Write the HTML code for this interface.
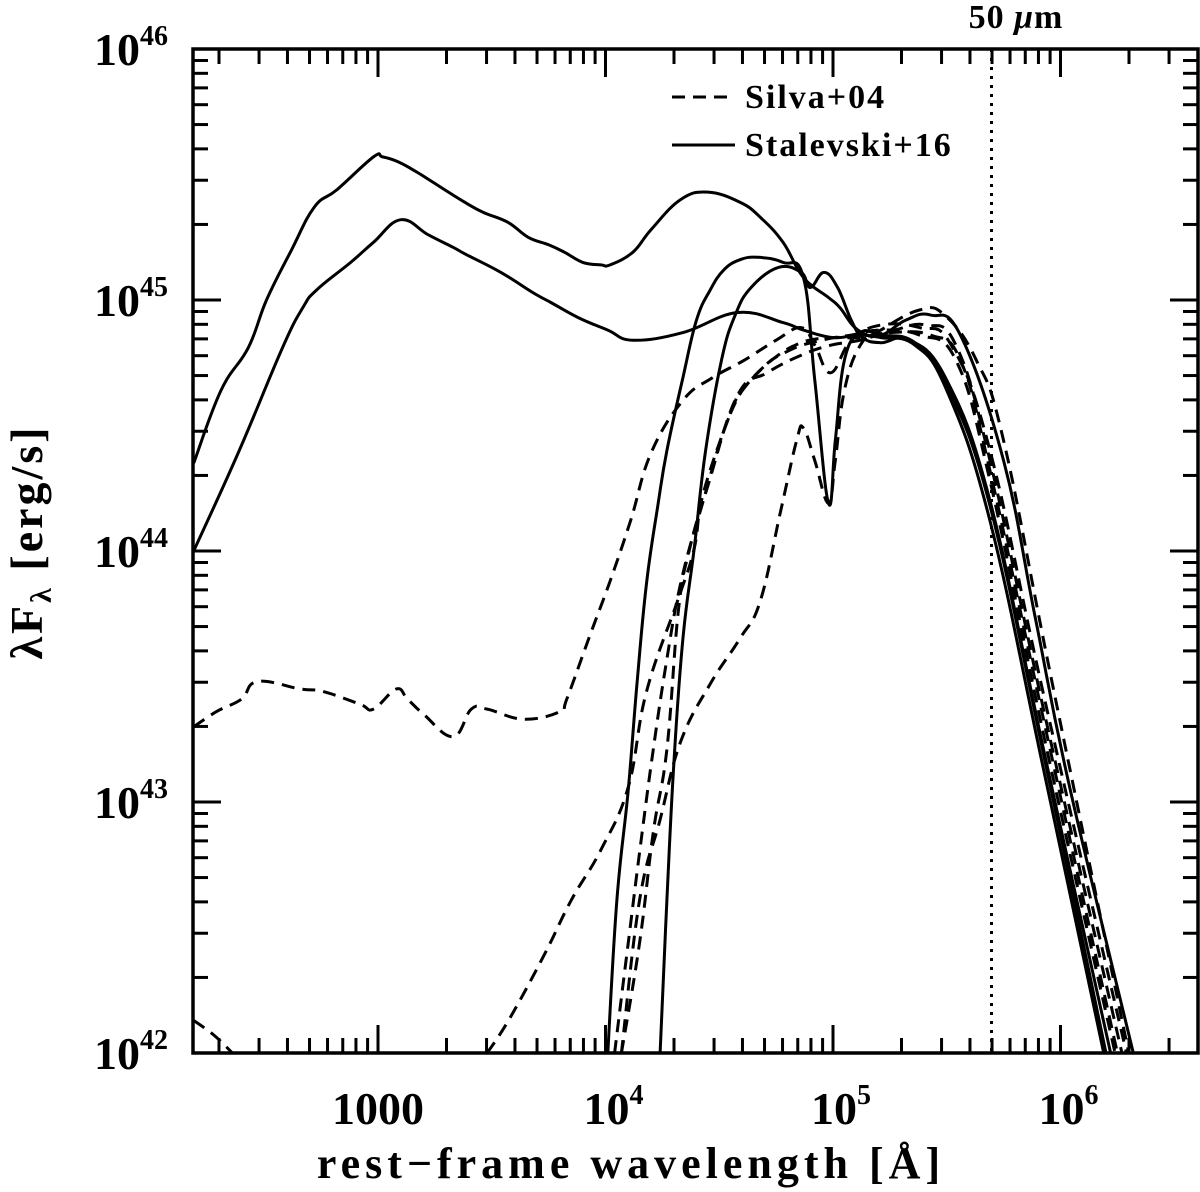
<!DOCTYPE html>
<html><head><meta charset="utf-8"><style>
html,body{margin:0;padding:0;background:#fff;}
svg{display:block;font-family:"Liberation Serif","DejaVu Serif",serif;}
</style></head><body>
<svg id="chart" width="1200" height="1192" viewBox="0 0 1200 1192" xmlns="http://www.w3.org/2000/svg">
<rect width="1200" height="1192" fill="#fff"/>
<g id="axes"></g>
<g id="series"></g>
<line x1="991.5" y1="49" x2="991.5" y2="1053" stroke="#000" stroke-width="3" stroke-dasharray="3,6"/>
<text x="1016" y="28" font-size="34" font-weight="bold" text-anchor="middle" letter-spacing="1">50 <tspan font-style="italic">μ</tspan>m</text>
<g>
<line x1="672" y1="97" x2="735" y2="97" stroke="#000" stroke-width="3" stroke-dasharray="13,8"/>
<text x="745" y="108" font-size="34" font-weight="bold" letter-spacing="2">Silva+04</text>
<line x1="672" y1="145" x2="735" y2="145" stroke="#000" stroke-width="3"/>
<text x="745" y="156" font-size="34" font-weight="bold" letter-spacing="2">Stalevski+16</text>
</g>
<text x="631" y="1178" font-size="44" font-weight="bold" text-anchor="middle" letter-spacing="5">rest−frame wavelength [Å]</text>
<text transform="translate(42,542) rotate(-90)" font-size="46" font-weight="bold" text-anchor="middle" letter-spacing="3">λF<tspan font-size="30" dy="9">λ</tspan><tspan dy="-9"> [erg/s]</tspan></text>
</svg>
<script>
// data in log10(wavelength/Å), log10(L/erg s^-1)
const xDecadeTicks = [3,4,5,6];
const xTickLabels = ["1000","10","10","10"];
const xTickExps = ["","4","5","6"];
const yDecadeTicks = [42,43,44,45,46];
const yTickExps = ["42","43","44","45","46"];

const stalTopX = [2.19,2.31,2.43,2.51,2.62,2.72,2.82,2.98,3.02,3.09,3.17,3.24,3.38,3.46,3.57,3.66,3.75,3.82,3.90,3.98,4.02,4.12,4.20,4.33,4.45,4.59,4.68,4.78,4.87,4.98,5.03,5.11,5.21,5.32,5.43,5.56,5.75,5.89,6.04,6.32];
const stalTopY = [44.35,44.64,44.81,45.00,45.20,45.37,45.44,45.57,45.57,45.55,45.51,45.47,45.39,45.35,45.31,45.25,45.22,45.19,45.15,45.14,45.14,45.19,45.28,45.40,45.43,45.39,45.33,45.23,45.09,45.01,44.97,44.88,44.86,44.92,44.94,44.86,44.36,43.73,43.06,42.00];
const stalLowX = [2.19,2.39,2.58,2.67,2.73,2.88,2.98,3.10,3.22,3.33,3.39,3.54,3.68,3.76,3.88,4.01,4.12,4.34,4.58,4.78,4.87,5.00,5.11,5.21,5.36,5.50,5.69,5.93,6.19];
const stalLowY = [44.00,44.40,44.81,44.97,45.04,45.15,45.23,45.32,45.26,45.21,45.18,45.11,45.03,44.99,44.93,44.88,44.84,44.87,44.95,44.91,44.88,44.85,44.86,44.85,44.82,44.64,44.12,43.11,42.00];
const stalDipX = [4.01,4.05,4.10,4.14,4.18,4.23,4.27,4.34,4.40,4.46,4.52,4.59,4.67,4.78,4.87,4.92,4.98,5.01,5.05,5.12,5.21,5.36,5.50,5.69,5.93,6.20];
const stalDipY = [42.00,42.61,43.05,43.49,43.87,44.18,44.40,44.69,44.92,45.04,45.12,45.16,45.17,45.15,45.09,44.68,44.19,44.44,44.76,44.87,44.86,44.83,44.66,44.18,43.17,42.00];
const stalPeakX = [4.24,4.27,4.30,4.34,4.39,4.44,4.51,4.57,4.64,4.76,4.86,4.90,4.96,5.02,5.08,5.13,5.21,5.34,5.50,5.69,5.93,6.22];
const stalPeakY = [42.00,42.61,43.15,43.65,44.01,44.40,44.76,44.94,45.05,45.13,45.11,45.05,45.11,45.05,44.92,44.85,44.83,44.84,44.68,44.20,43.19,42.00];

const silva1X = [2.19,2.29,2.40,2.47,2.66,2.76,2.92,2.98,3.08,3.13,3.20,3.33,3.41,3.48,3.64,3.80,3.83,3.93,4.02,4.11,4.20,4.34,4.47,4.61,4.75,4.86,4.92,4.99,5.08,5.21,5.38,5.52,5.69,5.93,6.29];
const silva1Y = [43.30,43.36,43.41,43.48,43.45,43.44,43.39,43.37,43.45,43.41,43.35,43.26,43.37,43.37,43.33,43.36,43.41,43.66,43.88,44.12,44.39,44.60,44.69,44.76,44.84,44.89,44.82,44.71,44.84,44.90,44.89,44.82,44.40,43.41,42.00];
const silva2X = [2.19,2.28,2.36];
const silva2Y = [42.13,42.07,42.00];
const silva2bX = [3.48,3.58,3.73,3.85,3.98,4.10,4.18,4.32,4.39,4.43,4.55,4.61,4.73,4.86,4.99,5.12,5.25,5.43,5.56,5.69,5.93,6.25];
const silva2bY = [42.00,42.14,42.39,42.61,42.81,43.06,43.44,43.81,44.01,44.23,44.55,44.65,44.76,44.83,44.85,44.85,44.87,44.86,44.76,44.32,43.31,42.00];
const silva3X = [4.04,4.10,4.15,4.21,4.27,4.33,4.42,4.55,4.68,4.81,4.95,5.08,5.21,5.38,5.54,5.69,5.93,6.24];
const silva3Y = [42.00,42.44,42.80,43.21,43.57,43.87,44.17,44.55,44.72,44.80,44.84,44.86,44.88,44.86,44.76,44.28,43.25,42.00];
const silva4X = [4.07,4.15,4.21,4.27,4.32,4.37,4.45,4.58,4.71,4.86,4.99,5.12,5.27,5.41,5.54,5.69,5.93,6.27];
const silva4Y = [42.00,42.44,42.88,43.21,43.76,44.01,44.26,44.62,44.71,44.78,44.82,44.84,44.88,44.90,44.82,44.36,43.35,42.00];
const silva5X = [4.07,4.15,4.24,4.33,4.46,4.59,4.68,4.77,4.84,4.87,4.92,4.98,5.01,5.05,5.12,5.21,5.38,5.49,5.63,5.75,5.96,6.30];
const silva5Y = [42.00,42.61,42.93,43.24,43.47,43.65,43.80,44.16,44.44,44.49,44.36,44.19,44.36,44.64,44.82,44.88,44.96,44.94,44.76,44.44,43.49,42.00];

const L=193,R=1198,T=49,B=1053;
const X0=2.1868, XS=227.5;
function xs(v){return L+(v-X0)*XS;}
function ys(v){return B-(v-42)*251;}
const NS="http://www.w3.org/2000/svg";
const axes=document.getElementById('axes');
const series=document.getElementById('series');
function mk(tag,attrs,parent){const e=document.createElementNS(NS,tag);for(const k in attrs)e.setAttribute(k,attrs[k]);parent.appendChild(e);return e;}

const frame=mk('rect',{x:L,y:T,width:R-L,height:B-T,fill:'none',stroke:'#000','stroke-width':3.5},axes);



for(let d=2;d<=6;d++){
  for(let m=1;m<=9;m++){
    const v=d+Math.log10(m);
    const px=xs(v);
    if(px<L+1||px>R-1)continue;
    const len=(m===1)?28:15;
    const t1=mk('line',{x1:px,y1:B,x2:px,y2:B-len,stroke:'#000','stroke-width':3},axes);
    
    
    const t2=mk('line',{x1:px,y1:T,x2:px,y2:T+len,stroke:'#000','stroke-width':3},axes);
    
    
  }
}
xDecadeTicks.forEach((v,i)=>{
  const t=mk('text',{x:xs(v)+(xTickExps[i]?8:0),y:1124,'font-size':46,'font-weight':'bold','text-anchor':'middle'},axes);
  
  
  t.textContent=xTickLabels[i];
  if(xTickExps[i]){const s=mk('tspan',{'font-size':28,dy:-20},t);s.textContent=xTickExps[i];}
});
for(let d=42;d<=45;d++){
  for(let m=1;m<=9;m++){
    const v=d+Math.log10(m);
    const py=ys(v);
    const len=(m===1)?28:15;
    const t1=mk('line',{x1:L,y1:py,x2:L+len,y2:py,stroke:'#000','stroke-width':3},axes);
    
    
    const t2=mk('line',{x1:R,y1:py,x2:R-len,y2:py,stroke:'#000','stroke-width':3},axes);
    
    
  }
}
yDecadeTicks.forEach((v,i)=>{
  const t=mk('text',{x:168,y:ys(v)+16,'font-size':46,'font-weight':'bold','text-anchor':'end'},axes);
  
  
  t.textContent='10';
  const s=mk('tspan',{'font-size':28,dy:-20},t);s.textContent=yTickExps[i];
});

const clip=mk('clipPath',{id:'pc'},document.getElementById('chart'));
mk('rect',{x:L,y:T,width:R-L,height:B-T},clip);
series.setAttribute('clip-path','url(#pc)');
function draw(xa,ya,dashed,name){
  const P=xa.map((v,i)=>[xs(v),ys(ya[i])]);
  let d='M'+P[0][0].toFixed(1)+','+P[0][1].toFixed(1);
  for(let i=0;i<P.length-1;i++){
    const p0=P[i-1]||P[i],p1=P[i],p2=P[i+1],p3=P[i+2]||P[i+1];
    const k=0.2;
    const c1=[p1[0]+(p2[0]-p0[0])*k,p1[1]+(p2[1]-p0[1])*k];
    const c2=[p2[0]-(p3[0]-p1[0])*k,p2[1]-(p3[1]-p1[1])*k];
    d+=' C'+c1[0].toFixed(1)+','+c1[1].toFixed(1)+' '+c2[0].toFixed(1)+','+c2[1].toFixed(1)+' '+p2[0].toFixed(1)+','+p2[1].toFixed(1);
  }
  const p=mk('path',{d:d,fill:'none',stroke:'#000','stroke-width':3,'stroke-linejoin':'round'},series);
  if(dashed)p.setAttribute('stroke-dasharray','13,8');
  
  
}
draw(stalTopX,stalTopY,false,'stalevski-sed-1');
draw(stalLowX,stalLowY,false,'stalevski-sed-2');
draw(stalDipX,stalDipY,false,'stalevski-sed-3');
draw(stalPeakX,stalPeakY,false,'stalevski-sed-4');
draw(silva1X,silva1Y,true,'silva-sed-1');
draw(silva2X,silva2Y,true,'silva-sed-2-uv');
draw(silva2bX,silva2bY,true,'silva-sed-2');
draw(silva3X,silva3Y,true,'silva-sed-3');
draw(silva4X,silva4Y,true,'silva-sed-4');
draw(silva5X,silva5Y,true,'silva-sed-5');
</script>
</body></html>
